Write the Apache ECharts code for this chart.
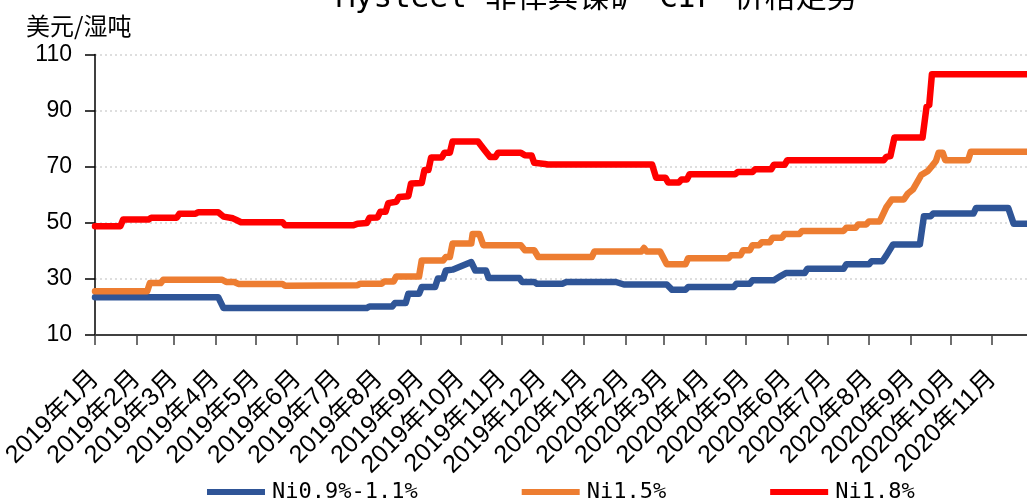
<!DOCTYPE html>
<html>
<head>
<meta charset="utf-8">
<title>Mysteel 菲律宾镍矿 CIF 价格走势</title>
<script src="https://cdn.jsdelivr.net/npm/echarts@6/dist/echarts.min.js"></script>
<style>
  html, body { margin: 0; padding: 0; background: #fff; }
  #chart { width: 1027px; height: 498px; }
</style>
</head>
<body>
<div id="chart"></div>
<script>
'use strict';

// 系列名称
var seriesNames = ['Ni0.9%-1.1%', 'Ni1.5%', 'Ni1.8%'];
var seriesColors = ['#2f5597', '#ed7d31', '#ff0000'];

// Ni0.9%-1.1%
var lowDates = ['2019-01-01', '2019-04-03', '2019-04-07', '2019-07-23', '2019-07-25', '2019-08-11', '2019-08-13',
    '2019-08-21', '2019-08-23', '2019-08-31', '2019-09-02', '2019-09-12', '2019-09-14', '2019-09-18', '2019-09-20',
    '2019-09-25', '2019-10-09', '2019-10-12', '2019-10-20', '2019-10-22', '2019-11-14', '2019-11-16', '2019-11-25',
    '2019-11-27', '2019-12-16', '2019-12-19', '2020-01-25', '2020-01-31', '2020-03-03', '2020-03-07', '2020-03-17',
    '2020-03-19', '2020-04-22', '2020-04-24', '2020-05-04', '2020-05-06', '2020-05-22', '2020-05-27', '2020-05-31',
    '2020-06-14', '2020-06-16', '2020-07-13', '2020-07-15', '2020-08-01', '2020-08-03', '2020-08-11', '2020-08-14',
    '2020-08-19', '2020-09-08', '2020-09-11', '2020-09-16', '2020-09-18', '2020-10-18', '2020-10-20', '2020-11-13',
    '2020-11-17', '2020-11-27'];
var lowValues = [23.5, 23.5, 19.6, 19.6, 20.2, 20.2, 21.4,
    21.4, 24.7, 24.7, 27.1, 27.1, 30.1, 30.1, 33,
    33.3, 36, 33, 33, 30.3, 30.3, 28.9, 28.9,
    28.3, 28.3, 28.9, 28.9, 28, 28, 26.1, 26.1,
    27.1, 27.1, 28.3, 28.3, 29.5, 29.5, 31, 32.1,
    32.1, 33.6, 33.6, 35.2, 35.2, 36.3, 36.3, 38.4,
    42.3, 42.3, 52.3, 52.3, 53.3, 53.3, 55.3, 55.3,
    49.7, 49.7];

// Ni1.5%
var midDates = ['2019-01-01', '2019-02-09', '2019-02-11', '2019-02-19', '2019-02-21', '2019-04-06', '2019-04-09',
    '2019-04-15', '2019-04-18', '2019-05-21', '2019-05-23', '2019-07-16', '2019-07-18', '2019-08-03', '2019-08-05',
    '2019-08-12', '2019-08-14', '2019-08-31', '2019-09-02', '2019-09-18', '2019-09-20', '2019-09-23', '2019-09-25',
    '2019-10-09', '2019-10-10', '2019-10-15', '2019-10-18', '2019-11-15', '2019-11-18', '2019-11-25', '2019-11-28',
    '2020-01-07', '2020-01-09', '2020-02-13', '2020-02-15', '2020-02-17', '2020-02-27', '2020-03-03', '2020-03-17',
    '2020-03-19', '2020-04-18', '2020-04-20', '2020-04-27', '2020-04-29', '2020-05-04', '2020-05-06', '2020-05-11',
    '2020-05-13', '2020-05-19', '2020-05-21', '2020-05-28', '2020-05-30', '2020-06-10', '2020-06-12', '2020-07-13',
    '2020-07-15', '2020-07-22', '2020-07-24', '2020-07-30', '2020-08-01', '2020-08-09', '2020-08-14', '2020-08-18',
    '2020-08-27', '2020-08-30', '2020-09-03', '2020-09-09', '2020-09-14', '2020-09-17', '2020-09-20', '2020-09-22',
    '2020-09-25', '2020-09-27', '2020-10-14', '2020-10-16', '2020-11-27'];
var midValues = [25.6, 25.6, 28.5, 28.5, 29.7, 29.7, 28.9,
    28.9, 28.2, 28.2, 27.6, 27.7, 28.3, 28.3, 29.1,
    29.1, 30.9, 30.9, 36.6, 36.6, 37.8, 37.8, 42.6,
    42.6, 46, 46, 42, 42, 40.2, 40.2, 37.8,
    37.8, 39.8, 39.8, 41, 39.8, 39.8, 35.2, 35.2,
    37.4, 37.4, 38.4, 38.4, 40.2, 40.2, 42, 42,
    43.1, 43.1, 44.7, 44.7, 46, 46, 47.1, 47.1,
    48.2, 48.2, 49.4, 49.4, 50.5, 50.5, 55.6, 58.3,
    58.3, 60.4, 62, 67, 68.5, 70.2, 72, 75,
    75, 72.3, 72.3, 75.3, 75.3];

// Ni1.8%
var highDates = ['2019-01-01', '2019-01-20', '2019-01-22', '2019-02-10', '2019-02-12', '2019-03-03', '2019-03-05',
    '2019-03-17', '2019-03-19', '2019-04-03', '2019-04-07', '2019-04-14', '2019-04-17', '2019-04-20', '2019-05-21',
    '2019-05-23', '2019-07-13', '2019-07-16', '2019-07-23', '2019-07-25', '2019-07-31', '2019-08-02', '2019-08-06',
    '2019-08-08', '2019-08-14', '2019-08-16', '2019-08-23', '2019-08-25', '2019-09-02', '2019-09-04', '2019-09-07',
    '2019-09-09', '2019-09-17', '2019-09-19', '2019-09-23', '2019-09-25', '2019-10-14', '2019-10-19', '2019-10-23',
    '2019-10-27', '2019-10-29', '2019-11-15', '2019-11-18', '2019-11-23', '2019-11-25', '2019-12-03', '2019-12-05',
    '2020-02-21', '2020-02-24', '2020-03-02', '2020-03-04', '2020-03-12', '2020-03-14', '2020-03-18', '2020-03-20',
    '2020-04-23', '2020-04-25', '2020-05-06', '2020-05-08', '2020-05-20', '2020-05-22', '2020-05-30', '2020-06-01',
    '2020-08-12', '2020-08-14', '2020-08-17', '2020-08-20', '2020-09-10', '2020-09-13', '2020-09-15', '2020-09-17',
    '2020-11-27'];
var highValues = [48.8, 48.8, 51.2, 51.2, 51.8, 51.8, 53.2,
    53.2, 53.8, 53.8, 52.2, 51.6, 50.9, 50.2, 50.2,
    49.1, 49.1, 49.7, 49.9, 51.8, 51.9, 53.9, 53.9,
    57, 57.5, 59.2, 59.5, 64, 64.2, 68.8, 68.8,
    73.3, 73.3, 75, 75, 79, 79, 75.9, 73.5,
    73.5, 75, 75, 74.1, 74, 71.4, 71, 70.8,
    70.8, 66.1, 66.1, 64.4, 64.4, 65.4, 65.4, 67.3,
    67.3, 68.1, 68.1, 69.1, 69.1, 70.7, 70.7, 72.3,
    72.3, 73.5, 73.8, 80.4, 80.4, 91.4, 92, 103,
    103];

// 坐标轴
var xMin = '2019-01-01';
var xMax = '2020-11-27';
var yMin = 10, yMax = 110, yStep = 20;

var dayMs = 24 * 3600 * 1000;

function pairUp(dates, values) {
    return dates.map(function (d, i) { return [d, values[i]]; });
}

var seriesData = [
    pairUp(lowDates, lowValues),
    pairUp(midDates, midValues),
    pairUp(highDates, highValues)
];

var chart = echarts.init(document.getElementById('chart'), null, {renderer: 'canvas'});

var option = {
    animation: false,
    backgroundColor: '#fff',
    title: [{
        text: 'Mysteel 菲律宾镍矿 CIF 价格走势',
        left: 592,
        textAlign: 'center',
        top: -22,
        textStyle: {
            fontFamily: 'DejaVu Sans Mono, Noto Sans CJK SC',
            fontSize: 31,
            fontWeight: 'normal',
            color: '#000'
        }
    }, {
        text: '美元/湿吨',
        left: 21,
        top: 9,
        textStyle: {
            fontFamily: 'Noto Sans CJK SC',
            fontSize: 24,
            fontWeight: 'normal',
            color: '#000'
        }
    }],
    legend: {
        left: 202,
        top: 476,
        itemWidth: 58,
        itemHeight: 6,
        itemGap: 104,
        icon: 'rect',
        data: seriesNames,
        textStyle: {
            fontFamily: 'DejaVu Sans Mono',
            fontSize: 22,
            color: '#000',
            padding: [0, 0, 0, 2]
        }
    },
    grid: {
        left: 95,
        right: 0,
        top: 54.5,
        bottom: 163,
        outerBoundsMode: 'none'
    },
    xAxis: {
        type: 'time',
        min: xMin,
        max: xMax,
        splitNumber: 23,
        minInterval: 28 * dayMs,
        maxInterval: 31 * dayMs,
        axisLine: {lineStyle: {color: '#404040', width: 2}},
        axisTick: {show: true, length: 10, lineStyle: {color: '#404040', width: 1.5}},
        splitLine: {show: false},
        axisLabel: {
            rotate: 45,
            margin: 40,
            fontSize: 25,
            color: '#000',
            fontFamily: 'Liberation Sans, Noto Sans CJK SC',
            hideOverlap: false,
            formatter: function (v) {
                var d = new Date(v);
                return d.getFullYear() + '年' + (d.getMonth() + 1) + '月';
            }
        }
    },
    yAxis: {
        type: 'value',
        min: yMin,
        max: yMax,
        interval: yStep,
        axisLine: {show: true, lineStyle: {color: '#000', width: 1.5}},
        axisTick: {show: true, length: 10, lineStyle: {color: '#000', width: 1.5}},
        axisLabel: {
            margin: 23,
            fontSize: 23,
            color: '#000',
            fontFamily: 'Liberation Sans'
        },
        splitLine: {
            show: true,
            lineStyle: {color: '#d4d4d4', type: [2, 3], width: 1.5}
        }
    },
    series: seriesNames.map(function (name, i) {
        return {
            name: name,
            type: 'line',
            data: seriesData[i],
            showSymbol: false,
            symbol: 'none',
            color: seriesColors[i],
            lineStyle: {width: 6.5, color: seriesColors[i], join: 'round', cap: 'round'}
        };
    })
};

chart.setOption(option);
</script>
</body>
</html>
